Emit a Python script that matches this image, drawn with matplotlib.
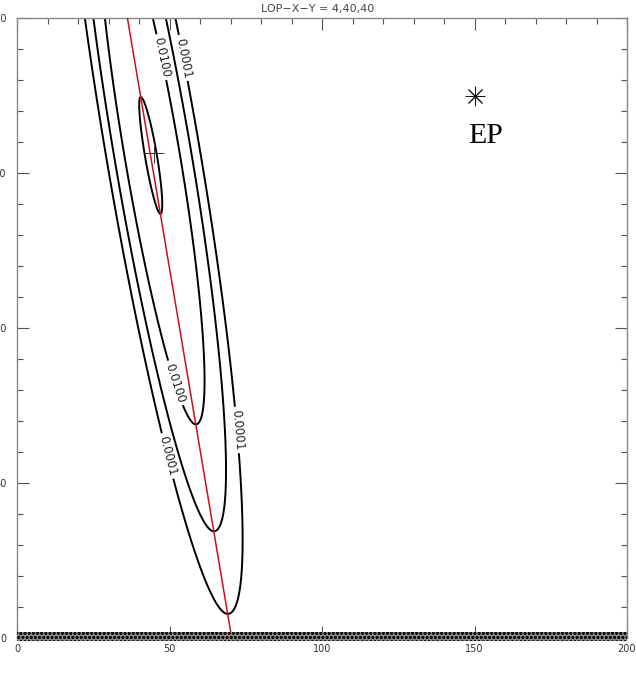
import matplotlib
matplotlib.use("Agg")
import matplotlib.pyplot as plt
import numpy as np

# values
title = "LOP\u2212X\u2212Y = 4,40,40"
red_line_y = [0.0, 200.0]
red_line_x = [70.4, 36.2]
tip_y = [7.7, 34.5, 69.0, 137.0, 156.0, 176.0, 200.0]
tip_log = [-4.0, -3.0, -2.0, -1.0, -0.95, -1.0, -1.23]
sigma_left = 3.9
sigma_right = 4.4
levels = [0.0001, 0.001, 0.01, 0.1]
label_levels = [0.0001, 0.01]
label_pos = [(50.5, 59.0), (72.1, 67.1), (54.4, 187.1), (47.5, 187.4), (52.8, 82.6)]
ep_xy = (150, 175)
ep_text_xy = (153.6, 162.0)
cross_xy = (44.8, 156.5)
xticks = [0, 50, 100, 150, 200]
yticks = [0, 50, 100, 150, 200]

# likelihood surface built from the read parameters
coef = np.polyfit(tip_y, tip_log, 2)
xs = np.linspace(0, 200, 801)
ys = np.linspace(0, 200, 801)
X, Y = np.meshgrid(xs, ys)
slope = (red_line_x[1] - red_line_x[0]) / (red_line_y[1] - red_line_y[0])
centre = red_line_x[0] + slope * (Y - red_line_y[0])
d = X - centre
sig = np.where(d < 0, sigma_left, sigma_right)
Z = 10 ** np.polyval(coef, Y) * np.exp(-d**2 / (2 * sig**2))

plt.rcParams['hatch.linewidth'] = 0.8
fig = plt.figure(figsize=(6.36, 6.77), dpi=100)
ax = fig.add_axes([17/636, 39/677, 610/636, 620/677])

plain_levels = [l for l in levels if l not in label_levels]
ax.contour(X, Y, Z, levels=plain_levels, colors='k', linewidths=1.4)
cs = ax.contour(X, Y, Z, levels=label_levels, colors='k', linewidths=1.4)
ax.clabel(cs, fmt='%.4f', inline=True, inline_spacing=3,
          fontsize=8.5, manual=label_pos, colors='#222222')

ax.plot(red_line_x, red_line_y, color='#cc1111', lw=1.1, zorder=3)

# hatched strip along the bottom
band = plt.Rectangle((0, -0.9), 200, 2.8, facecolor='#8a8a8a', edgecolor='#111111',
                     hatch='oooo', lw=0, clip_on=False, zorder=4)
ax.add_patch(band)

ax.plot(*ep_xy, marker=(8, 2, 0), ms=14, mew=0.7, color='#111111', ls='none')
ax.text(*ep_text_xy, "EP", fontsize=21.5, family='Liberation Serif', ha='center', va='center')
ax.plot(*cross_xy, marker='+', ms=14, mew=0.7, color='#333333', ls='none')

ax.set_xlim(0, 200)
ax.set_ylim(0, 200)
ax.set_xticks(xticks)
ax.set_yticks(yticks)
ax.set_xticks(np.arange(0, 201, 10), minor=True)
ax.set_yticks(np.arange(0, 201, 10), minor=True)
ax.tick_params(which='both', direction='in', top=True, right=True, colors='#555555',
               labelcolor='#333333', labelsize=7)
ax.tick_params(which='major', length=8.5, width=0.8)
ax.tick_params(which='minor', length=4.3, width=0.8)
ax.tick_params(axis='y', pad=7.3)
ax.tick_params(axis='x', pad=4)
for s in ax.spines.values():
    s.set_color('#888888')
    s.set_linewidth(1.0)

fig.text(0.5, 1 - 9/677, title, ha='center', va='center', fontsize=8, color='#444444')

fig.savefig('out.png', dpi=100)
